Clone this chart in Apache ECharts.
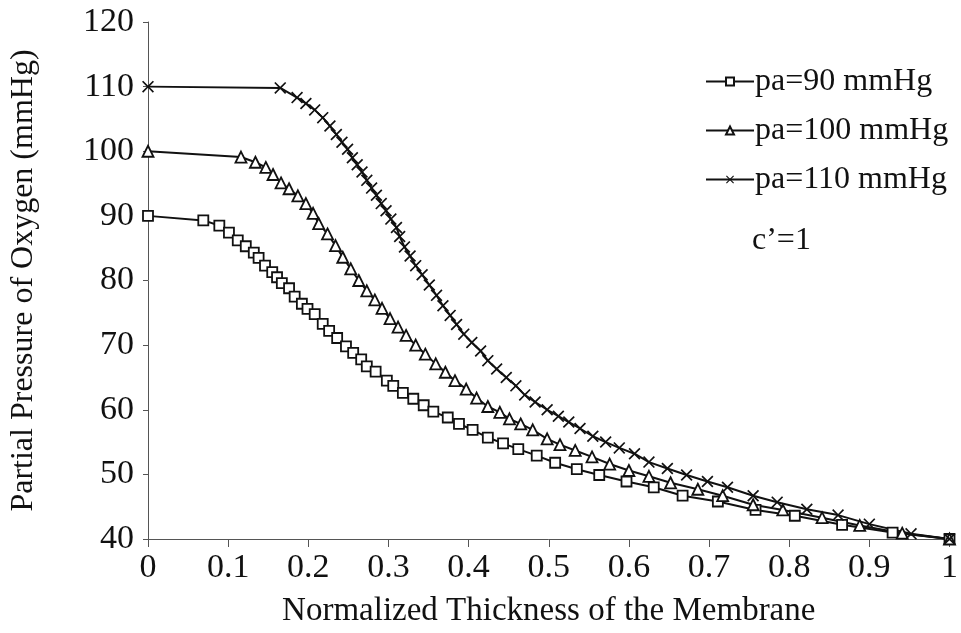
<!DOCTYPE html>
<html>
<head>
<meta charset="utf-8">
<script src="https://cdn.jsdelivr.net/npm/echarts@6/dist/echarts.min.js"></script>
<style>
html,body{margin:0;padding:0;background:#fff;}
#chart{width:961px;height:633px;}
</style>
</head>
<body>
<div id="chart"></div>
<script>
// ---- data ----
var seriesNames = ['pa=90 mmHg', 'pa=100 mmHg', 'pa=110 mmHg'];
var xTickValues = [0, 0.1, 0.2, 0.3, 0.4, 0.5, 0.6, 0.7, 0.8, 0.9, 1];
var yTickValues = [40, 50, 60, 70, 80, 90, 100, 110, 120];

var x90 = [0,0.069,0.089,0.101,0.112,0.122,0.132,0.138,0.146,0.155,0.161,0.167,0.176,0.183,0.192,0.199,0.208,0.218,0.226,0.236,0.247,0.256,0.266,0.273,0.284,0.298,0.306,0.318,0.331,0.344,0.356,0.374,0.388,0.405,0.424,0.443,0.462,0.485,0.508,0.535,0.563,0.597,0.631,0.667,0.711,0.758,0.807,0.866,0.929,1];
var y90 = [90,89.3,88.5,87.4,86.2,85.3,84.3,83.5,82.3,81.3,80.5,79.6,78.8,77.5,76.4,75.6,74.8,73.3,72.2,71.1,69.8,68.8,67.8,66.7,65.9,64.5,63.7,62.6,61.7,60.7,59.7,58.8,57.8,56.9,55.7,54.8,53.9,52.9,51.8,50.8,49.9,48.9,48.0,46.7,45.8,44.5,43.6,42.2,41.0,40];

var x100 = [0,0.116,0.134,0.147,0.156,0.166,0.176,0.187,0.197,0.206,0.213,0.224,0.234,0.243,0.253,0.263,0.273,0.283,0.292,0.302,0.312,0.322,0.334,0.346,0.359,0.371,0.383,0.397,0.410,0.424,0.439,0.451,0.465,0.480,0.498,0.514,0.533,0.554,0.576,0.600,0.625,0.652,0.686,0.717,0.755,0.792,0.841,0.888,0.941,1];
var y100 = [100,99.1,98.3,97.5,96.4,95.1,94.2,93.1,91.9,90.4,88.8,87.2,85.4,83.6,81.8,80.0,78.4,77.0,75.7,74.1,72.8,71.5,70.0,68.6,67.1,65.8,64.5,63.2,61.8,60.5,59.6,58.6,57.8,56.9,55.5,54.6,53.7,52.7,51.6,50.6,49.7,48.7,47.7,46.7,45.3,44.5,43.3,42.1,40.9,40];

var x110 = [0,0.165,0.186,0.197,0.208,0.218,0.227,0.235,0.242,0.249,0.255,0.261,0.267,0.273,0.279,0.285,0.291,0.297,0.303,0.310,0.314,0.320,0.327,0.334,0.342,0.351,0.360,0.368,0.377,0.385,0.394,0.404,0.415,0.424,0.435,0.447,0.459,0.470,0.483,0.498,0.512,0.525,0.539,0.555,0.571,0.588,0.607,0.625,0.648,0.672,0.698,0.723,0.755,0.785,0.822,0.861,0.900,0.952,1];
var y110 = [110,109.8,108.3,107.4,106.4,105.2,103.9,102.6,101.4,100.3,99.0,97.9,96.8,95.5,94.3,93.2,91.9,90.8,89.5,88.2,86.8,85.2,83.8,82.3,80.9,79.3,77.7,76.1,74.6,73.2,71.7,70.4,69.1,67.6,66.3,65.0,63.7,62.3,61.2,60.0,59.0,58.1,57.1,55.9,55.0,54.1,53.2,51.9,50.9,49.9,48.9,48.0,46.7,45.7,44.6,43.7,42.3,40.8,40];

var noteText = 'c\u2019=1';
var xTitle = 'Normalized Thickness of the Membrane';
var yTitle = 'Partial Pressure of Oxygen (mmHg)';

// ---- build ----
function pairs(xs, ys) { return xs.map(function (x, i) { return [x, ys[i]]; }); }
var crossPath = 'path://M0,1 L1,0 L5,4 L9,0 L10,1 L6,5 L10,9 L9,10 L5,6 L1,10 L0,9 L4,5 Z';
var FONT = '"Liberation Serif", "DejaVu Serif", serif';
var INK = '#111';

var chart = echarts.init(document.getElementById('chart'), null, {renderer: 'canvas'});

function mkSeries(name, data, symbol, size, filled) {
  return {
    name: name,
    type: 'line',
    data: data,
    symbol: symbol,
    symbolSize: size,
    showAllSymbol: true,
    smooth: false,
    lineStyle: {color: INK, width: 2},
    itemStyle: filled ? {color: INK, borderColor: INK, borderWidth: 0}
                      : {color: '#fff', borderColor: INK, borderWidth: 1.8},
    emphasis: {disabled: true},
    animation: false
  };
}

chart.setOption({
  backgroundColor: '#fff',
  animation: false,
  grid: {left: 145, right: 9, top: 22, bottom: 90, containLabel: false},
  xAxis: {
    type: 'value',
    min: xTickValues[0],
    max: xTickValues[xTickValues.length - 1],
    interval: 0.1,
    name: xTitle,
    nameLocation: 'middle',
    nameGap: 56,
    nameTextStyle: {fontFamily: FONT, fontSize: 33, color: INK},
    axisLine: {show: true, lineStyle: {color: '#555', width: 1}},
    axisTick: {show: true, inside: false, length: 8, lineStyle: {color: '#555'}},
    axisLabel: {fontFamily: FONT, fontSize: 34, color: INK, margin: 12,
      formatter: function (v) { return String(Math.round(v * 10) / 10); }},
    splitLine: {show: false}
  },
  yAxis: {
    type: 'value',
    min: yTickValues[0],
    max: yTickValues[yTickValues.length - 1],
    interval: 10,
    name: yTitle,
    nameLocation: 'middle',
    nameGap: 108,
    nameRotate: 90,
    nameTextStyle: {fontFamily: FONT, fontSize: 32, color: INK},
    axisLine: {show: true, lineStyle: {color: '#555', width: 1}},
    axisTick: {show: true, length: 5, lineStyle: {color: '#555'}},
    axisLabel: {fontFamily: FONT, fontSize: 34, color: INK, margin: 14},
    splitLine: {show: false}
  },
  legend: {
    orient: 'vertical',
    left: 700,
    top: 60,
    itemWidth: 48,
    itemHeight: 10,
    itemGap: 16,
    textStyle: {fontFamily: FONT, fontSize: 32, color: INK, lineHeight: 33, padding: [0, 0, 0, -4]},
    data: seriesNames
  },
  graphic: [{
    type: 'text',
    left: 752,
    top: 225,
    style: {text: noteText, font: '32px ' + FONT, fill: INK}
  }],
  series: [
    mkSeries(seriesNames[0], pairs(x90, y90), 'rect', 10, false),
    mkSeries(seriesNames[1], pairs(x100, y100), 'triangle', 11, false),
    mkSeries(seriesNames[2], pairs(x110, y110), crossPath, 12, true)
  ]
});
</script>
</body>
</html>
